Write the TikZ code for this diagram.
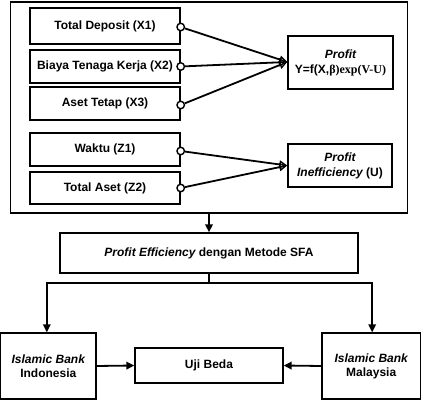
\documentclass[tikz,border=0pt]{standalone}
\usepackage{fontspec}
\setmainfont{Liberation Sans}
\newfontfamily\serifbf{Liberation Serif}
\usetikzlibrary{arrows.meta,positioning}
\begin{document}
\begin{tikzpicture}[x=1pt,y=-1pt,
  box/.style={draw,line width=1.4pt,inner sep=1pt,align=center,font=\fontsize{12}{14}\selectfont\bfseries},
  conn/.style={line width=1.8pt},
  hol/.style={circle,draw,line width=1.4pt,minimum size=7.5pt,inner sep=0pt,fill=white},
  otip/.style={-{Triangle[open,length=8pt,width=8pt,line width=1.4pt]}},
  ftip/.style={-{Triangle[length=8pt,width=7.5pt]}}]
\useasboundingbox (0,0) rectangle (421,407);
% outer frame
\node[draw,line width=1.4pt,minimum width=397pt,minimum height=211pt,inner sep=0pt] (outer) at (209,107.5) {};
% input boxes
\node[box,minimum width=150pt,minimum height=36pt] (b1) at (105,26) {Total Deposit (X1)};
\node[box,minimum width=150pt,minimum height=33pt] (b2) at (105,66.5) {Biaya Tenaga Kerja (X2)};
\node[box,minimum width=150pt,minimum height=33pt] (b3) at (105,103.5) {Aset Tetap (X3)};
\node[box,minimum width=150pt,minimum height=33pt] (b4) at (105,149.5) {Waktu (Z1)};
\node[box,minimum width=150pt,minimum height=32pt] (b5) at (105,188) {Total Aset (Z2)};
% output boxes
\node[box,minimum width=105pt,minimum height=53pt] (pr) at (340.5,62.5) {\itshape Profit\\[1pt]Y=f(X,{\serifbf β)exp(V-U)}};
\node[box,minimum width=104pt,minimum height=43pt] (ie) at (340,165.5) {\itshape Profit\\[1pt]{\itshape Inefficiency} (U)};
% circles
\node[hol] (c1) at ([yshift=-1pt]b1.east) {};
\node[hol] (c2) at (b2.east) {};
\node[hol] (c3) at ([yshift=-1.5pt]b3.east) {};
\node[hol] (c4) at ([yshift=-1.5pt]b4.east) {};
\node[hol] (c5) at (b5.east) {};
\coordinate (pin) at ([yshift=0.5pt]pr.west);
\draw[conn,otip] (c1) -- (pin);
\draw[conn,otip] (c2) -- (pin);
\draw[conn,otip] (c3) -- (pin);
\draw[conn,otip] (c4) -- (ie.west);
\draw[conn,otip] (c5) -- (ie.west);
% lower part
\node[box,minimum width=298pt,minimum height=40pt] (pe) at (209,253) {\itshape Profit Efficiency {\upshape dengan Metode SFA}};
\node[box,minimum width=95.3pt,minimum height=66pt] (L) at (48.3,366) {\itshape Islamic Bank\\Indonesia};
\node[box,minimum width=98.3pt,minimum height=66pt] (R) at (371.2,366) {\itshape Islamic Bank\\Malaysia};
\node[box,minimum width=148pt,minimum height=35pt] (U) at (209,365.5) {Uji Beda};
\draw[conn,ftip] (outer.south) -- (pe.north);
\coordinate (split) at (209,283);
\draw[conn] (pe.south) -- (split);
\draw[conn,ftip] (split) -| ([xshift=-1.5pt]L.north);
\draw[conn,ftip] (split) -| ([xshift=1pt]R.north);
\draw[conn,ftip] (L.east) -- (U.west);
\draw[conn,ftip] (R.west) -- (U.east);
\end{tikzpicture}
\end{document}
